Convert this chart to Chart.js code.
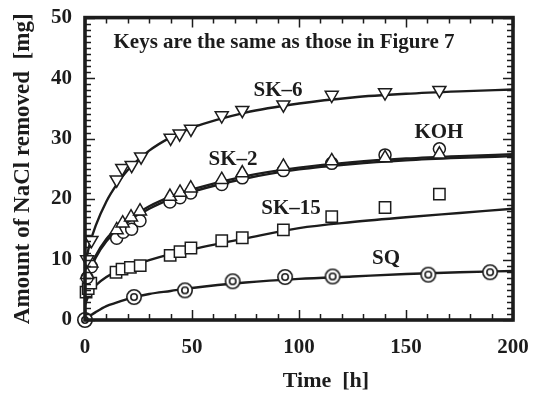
<!DOCTYPE html>
<html><head><meta charset="utf-8">
<script src="https://cdn.jsdelivr.net/npm/chart.js@4/dist/chart.umd.min.js"></script>
<style>html,body{margin:0;padding:0;background:#fff}#wrap{width:540px;height:394px;position:relative}</style>
</head><body><div id="wrap"><canvas id="c"></canvas></div>
<script>
// ---- data (time [h], NaCl removed [mg]) ----
const sk6X  = [1, 3, 14.8, 17.4, 21.8, 26.2, 40, 44.2, 49.5, 63.9, 73.5, 92.7, 115.3, 140.2, 165.6];
const sk6Y  = [10.0, 13.2, 23.2, 25.1, 25.6, 27.0, 30.1, 30.8, 31.6, 33.8, 34.7, 35.6, 37.2, 37.6, 38.0];
const sk2X  = [1, 3, 14.8, 17.6, 21.5, 25.7, 39.7, 44.4, 49.4, 63.9, 73.5, 92.7, 115.3, 140.2, 165.6];
const sk2Y  = [7.5, 9.4, 14.9, 16.0, 17.0, 18.0, 20.4, 21.1, 21.8, 23.2, 24.3, 25.4, 26.3, 26.8, 27.4];
const kohX  = [1, 3, 14.8, 17.9, 21.8, 25.7, 39.7, 44.4, 49.4, 63.9, 73.5, 92.7, 115.3, 140.2, 165.6];
const kohY  = [7.0, 8.8, 13.5, 14.5, 15.0, 16.4, 19.5, 20.2, 21.0, 22.4, 23.5, 24.7, 25.9, 27.3, 28.3];
const sk15X = [0.5, 1.5, 2.7, 14.5, 17.3, 21.2, 25.8, 39.8, 44.4, 49.5, 63.9, 73.5, 92.7, 115.3, 140.2, 165.6];
const sk15Y = [4.6, 5.2, 6.1, 7.9, 8.4, 8.7, 9.0, 10.7, 11.3, 11.9, 13.1, 13.6, 14.9, 17.1, 18.6, 20.8];
const sqX   = [0, 22.9, 46.7, 69, 93.5, 115.7, 160.4, 189.3];
const sqY   = [0, 3.8, 4.9, 6.4, 7.1, 7.2, 7.5, 7.9];

// fitted curves
const curveX    = [0, 2, 5, 10, 15, 20, 30, 40, 50, 75, 100, 125, 150, 175, 200];
const curveSK6  = [9.0, 12.3, 15.6, 19.6, 22.5, 24.8, 28.0, 30.2, 31.8, 34.3, 35.8, 36.8, 37.4, 37.8, 38.1];
const curveSK2  = [5.5, 8.0, 10.6, 13.4, 15.2, 16.6, 18.8, 20.4, 21.6, 23.8, 25.2, 26.1, 26.7, 27.1, 27.4];
const curveKOH  = [5.5, 7.8, 10.3, 13.0, 14.8, 16.2, 18.4, 20.0, 21.2, 23.4, 24.9, 25.8, 26.4, 26.8, 27.1];
const curveSK15 = [2.5, 4.3, 5.7, 7.1, 8.0, 8.7, 9.9, 10.9, 11.7, 13.5, 15.2, 16.2, 17.0, 17.7, 18.4];
const curveSQ   = [0, 0.6, 1.3, 2.3, 2.9, 3.5, 4.3, 4.8, 5.3, 6.2, 6.8, 7.2, 7.6, 7.9, 8.1];

// text labels (name, x, y in data units)
const seriesLabels = [["SK–6", 90.2, 37.9], ["SK–2", 69.2, 26.6], ["KOH", 165.4, 31.0], ["SK–15", 96.3, 18.5], ["SQ", 140.7, 10.2]];
const noteText = "Keys are the same as those in Figure 7";
const noteAt = [93.0, 45.9];
const xTitle = "Time  [h]";
const yTitle = "Amount of NaCl removed  [mg]";

const FONT = "'Liberation Serif', 'Times New Roman', serif";
const INK = "#1c1c1c";
const pts = (xs, ys) => xs.map((x, i) => ({x, y: ys[i]}));

// double-circle marker
const dbl = document.createElement('canvas');
dbl.width = 18; dbl.height = 18;
(function(){ const g = dbl.getContext('2d'); g.strokeStyle = INK; g.fillStyle = '#fff'; g.lineWidth = 1.6;
  g.beginPath(); g.arc(9, 9, 7.2, 0, Math.PI*2); g.fill(); g.stroke();
  g.beginPath(); g.arc(9, 9, 3.2, 0, Math.PI*2); g.stroke(); })();

const markerBase = {showLine: false, backgroundColor: '#fff', borderColor: INK, pointBorderWidth: 1.5, clip: false, order: 1};
const lineBase = {showLine: true, pointRadius: 0, borderColor: INK, borderWidth: 2.4, cubicInterpolationMode: 'monotone', clip: false, order: 2, fill: false};

const frame = {
  id: 'frame',
  afterDatasetsDraw(chart) {
    const {ctx, chartArea: a, scales: {x, y}} = chart;
    ctx.save();
    ctx.strokeStyle = INK; ctx.lineWidth = 1.5;
    ctx.beginPath();
    for (let v = 0; v <= 200; v += 10) {
      const px = Math.round(x.getPixelForValue(v)) + 0.5;
      const L = v % 50 === 0 ? 10 : 6;
      ctx.moveTo(px, a.bottom); ctx.lineTo(px, a.bottom - L);
      ctx.moveTo(px, a.top); ctx.lineTo(px, a.top + L);
    }
    for (let v = 0; v <= 50; v += 1) {
      const py = Math.round(y.getPixelForValue(v)) + 0.5;
      const L = v % 10 === 0 ? 10 : 6;
      ctx.moveTo(a.left, py); ctx.lineTo(a.left + L, py);
      ctx.moveTo(a.right, py); ctx.lineTo(a.right - L, py);
    }
    ctx.stroke();
    ctx.lineWidth = 3.6;
    ctx.strokeRect(a.left, a.top, a.right - a.left, a.bottom - a.top);
    ctx.restore();
  },
  afterDraw(chart) {
    const {ctx, chartArea: a, scales: {x, y}} = chart;
    ctx.save();
    ctx.fillStyle = INK;
    ctx.textAlign = 'center'; ctx.textBaseline = 'middle';
    ctx.font = "bold 21px " + FONT;
    seriesLabels.forEach(([t, vx, vy]) => ctx.fillText(t, x.getPixelForValue(vx), y.getPixelForValue(vy)));
    ctx.font = "bold 21px " + FONT;
    ctx.fillText(noteText, x.getPixelForValue(noteAt[0]), y.getPixelForValue(noteAt[1]));
    ctx.font = "bold 22px " + FONT;
    ctx.fillText(xTitle, a.left + (a.right - a.left) * 0.563, 381);
    ctx.translate(23, (a.top + a.bottom) / 2);
    ctx.rotate(-Math.PI / 2);
    ctx.font = "bold 23px " + FONT;
    ctx.fillText(yTitle, 0, 0);
    ctx.restore();
  }
};

new Chart(document.getElementById('c'), {
  type: 'scatter',
  data: {
    datasets: [
      {...lineBase, label: 'SK-6 fit', data: pts(curveX, curveSK6)},
      {...lineBase, label: 'SK-2 fit', data: pts(curveX, curveSK2)},
      {...lineBase, label: 'KOH fit', data: pts(curveX, curveKOH)},
      {...lineBase, label: 'SK-15 fit', data: pts(curveX, curveSK15)},
      {...lineBase, label: 'SQ fit', data: pts(curveX, curveSQ)},
      {...markerBase, label: 'SK-6', data: pts(sk6X, sk6Y), pointStyle: 'triangle', rotation: 180, pointRadius: 7.5},
      {...markerBase, label: 'SK-2', data: pts(sk2X, sk2Y), pointStyle: 'triangle', pointRadius: 7.5},
      {...markerBase, label: 'KOH', data: pts(kohX, kohY), pointStyle: 'circle', pointRadius: 6},
      {...markerBase, label: 'SK-15', data: pts(sk15X, sk15Y), pointStyle: 'rect', pointRadius: 8},
      {...markerBase, label: 'SQ', data: pts(sqX, sqY), pointStyle: dbl, pointRadius: 7}
    ]
  },
  options: {
    responsive: true, maintainAspectRatio: false, animation: false,
    devicePixelRatio: 1,
    layout: {padding: {left: 0, right: 27, top: 15, bottom: 0}},
    plugins: {legend: {display: false}, tooltip: {enabled: false}},
    scales: {
      x: {type: 'linear', min: 0, max: 200,
          grid: {display: false}, border: {display: false},
          ticks: {stepSize: 50, color: INK, padding: 7, font: {family: FONT, size: 21, weight: 'bold'}, maxRotation: 0},
          afterFit(s) { s.height = 74; }},
      y: {type: 'linear', min: 0, max: 50,
          grid: {display: false}, border: {display: false},
          ticks: {stepSize: 10, color: INK, padding: 5, font: {family: FONT, size: 21, weight: 'bold'}},
          afterFit(s) { s.width = 85; }}
    }
  },
  plugins: [frame]
});
</script></body></html>
